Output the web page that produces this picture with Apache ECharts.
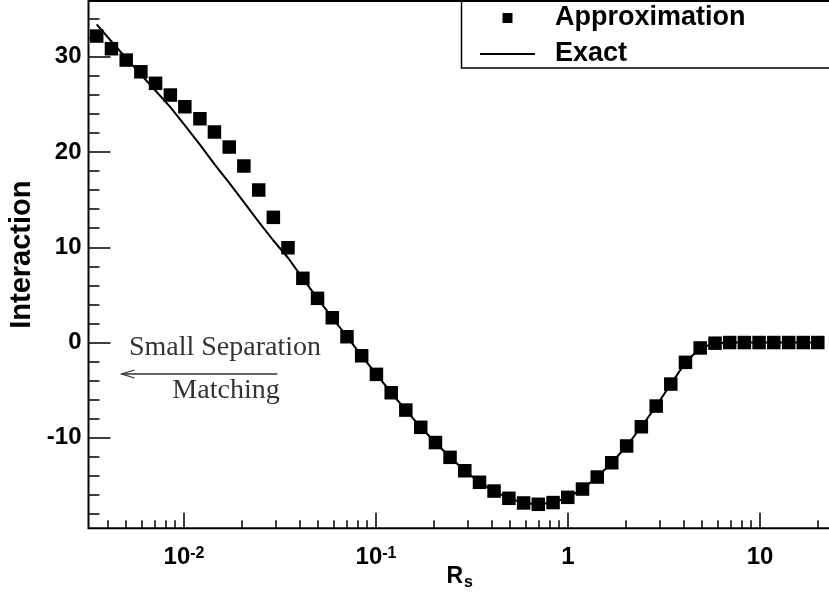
<!DOCTYPE html>
<html>
<head>
<meta charset="utf-8">
<script src="https://cdn.jsdelivr.net/npm/echarts@6/dist/echarts.min.js"></script>
<style>
html,body{margin:0;padding:0;background:#fff;}
#chart{width:829px;height:594px;}
</style>
</head>
<body>
<div id="chart"></div>
<script>
// ---- data ----
const rValues = [0.00351, 0.00419, 0.00500, 0.00596, 0.00711, 0.00849, 0.0101, 0.0121, 0.0144, 0.0172,
  0.0205, 0.0245, 0.0292, 0.0348, 0.0416, 0.0496, 0.0592, 0.0706, 0.0842, 0.1005,
  0.120, 0.143, 0.171, 0.204, 0.243, 0.290, 0.346, 0.412, 0.492, 0.587,
  0.700, 0.836, 0.997, 1.19, 1.42, 1.69, 2.02, 2.41, 2.88, 3.43,
  4.09, 4.88, 5.83, 6.95, 8.29, 9.89, 11.8, 14.1, 16.8, 20.0];
const approxValues = [32.17, 30.84, 29.65, 28.42, 27.21, 25.98, 24.75, 23.49, 22.1, 20.52,
  18.53, 16.01, 13.14, 9.95, 6.74, 4.64, 2.6, 0.61, -1.39, -3.34,
  -5.27, -7.09, -8.9, -10.5, -12.05, -13.46, -14.67, -15.59, -16.35, -16.84,
  -16.98, -16.8, -16.25, -15.38, -14.12, -12.62, -10.86, -8.84, -6.67, -4.36,
  -2.08, -0.57, -0.07, 0, 0, 0, 0, 0, 0, 0];
const exactValues = [33.4, 31.6, 29.85, 28.13, 26.43, 24.71, 22.8, 20.78, 18.72, 16.75,
  14.74, 12.67, 10.71, 8.9, 6.7, 4.64, 2.6, 0.61, -1.39, -3.34,
  -5.27, -7.09, -8.9, -10.5, -12.05, -13.46, -14.67, -15.59, -16.35, -16.84,
  -16.98, -16.8, -16.25, -15.38, -14.12, -12.62, -10.86, -8.84, -6.67, -4.36,
  -2.08, -0.57, -0.07, 0, 0, 0, 0, 0, 0, 0];
const seriesNames = ['Approximation', 'Exact'];
const xMajorTicks = [0.01, 0.1, 1, 10];
const xMinorTicks = [0.004, 0.005, 0.006, 0.007, 0.008, 0.009,
  0.02, 0.03, 0.04, 0.05, 0.06, 0.07, 0.08, 0.09,
  0.2, 0.3, 0.4, 0.5, 0.6, 0.7, 0.8, 0.9,
  2, 3, 4, 5, 6, 7, 8, 9, 20];
const yMajorTicks = [-10, 0, 10, 20, 30];
const yMinorTicks = [-18, -16, -14, -12, -8, -6, -4, -2, 2, 4, 6, 8, 12, 14, 16, 18, 22, 24, 26, 28, 32, 34];
const xRange = [0.003181, 23.43];
const yRange = [-19.5, 35.85];
const xTitle = 'R';
const xTitleSub = 's';
const yTitle = 'Interaction';
const noteTop = 'Small Separation';
const noteBottom = 'Matching';

const SANS = "'Liberation Sans', Arial, Helvetica, sans-serif";
const SERIF = "'Liberation Serif', 'Times New Roman', serif";

const chart = echarts.init(document.getElementById('chart'), null, {renderer: 'canvas'});

const approxData = rValues.map((r, i) => [r, approxValues[i]]);
const exactData = rValues.map((r, i) => [r, exactValues[i]]);

function xLabel(v) {
  if (v < 1) {
    const e = Math.round(Math.log10(v));
    return '{b|10}{s|' + e + '}';
  }
  return '{b|' + Math.round(v) + '}';
}

const option = {
  backgroundColor: '#fff',
  animation: false,
  grid: {
    left: 88.5, right: -2, top: 1, bottom: 65.7,
    outerBoundsMode: 'none', containLabel: false,
    show: true, borderColor: '#000', borderWidth: 2, backgroundColor: 'transparent'
  },
  legend: {
    orient: 'vertical',
    left: 480, top: 3,
    padding: 0,
    itemWidth: 55, itemHeight: 10,
    itemGap: 6,
    selectedMode: false,
    symbolKeepAspect: true,
    textStyle: {fontFamily: SANS, fontSize: 27, fontWeight: 'bold', color: '#000', lineHeight: 30, padding: [0, 0, 0, 15]},
    data: [
      {name: seriesNames[0], icon: 'path://M0,0L10,0L10,10L0,10Z'},
      {name: seriesNames[1], icon: 'path://M0,0L55,0L55,2L0,2Z'}
    ]
  },
  xAxis: [{
    type: 'log', logBase: 10,
    min: xRange[0], max: xRange[1],
    name: '{r|' + xTitle + '}{s|' + xTitleSub + '}',
    nameLocation: 'middle', nameGap: 34, nameMoveOverlap: false,
    nameTextStyle: {
      rich: {
        r: {fontFamily: SANS, fontSize: 23, fontWeight: 'bold', color: '#000'},
        s: {fontFamily: SANS, fontSize: 16, fontWeight: 'bold', color: '#000', padding: [12, 0, 0, 1]}
      }
    },
    axisLine: {show: false, onZero: false},
    splitLine: {show: false},
    axisTick: {show: true, inside: true, length: 15.5, customValues: xMajorTicks, lineStyle: {color: '#000', width: 1.5}},
    axisLabel: {
      customValues: xMajorTicks, margin: 17, formatter: xLabel,
      rich: {
        b: {fontFamily: SANS, fontSize: 24, fontWeight: 'bold', color: '#000'},
        s: {fontFamily: SANS, fontSize: 16, fontWeight: 'bold', color: '#000', verticalAlign: 'top', lineHeight: 16}
      }
    }
  }, {
    type: 'log', logBase: 10, position: 'bottom',
    min: xRange[0], max: xRange[1],
    axisLine: {show: false, onZero: false}, splitLine: {show: false}, axisLabel: {show: false},
    axisTick: {show: true, inside: true, length: 8, customValues: xMinorTicks, lineStyle: {color: '#000', width: 1.5}}
  }],
  yAxis: [{
    type: 'value', min: yRange[0], max: yRange[1],
    name: yTitle, nameLocation: 'middle', nameGap: 52, nameRotate: 90, nameMoveOverlap: false,
    nameTextStyle: {fontFamily: SANS, fontSize: 29, fontWeight: 'bold', color: '#000', padding: [0, 0, 0, 20]},
    axisLine: {show: false, onZero: false}, splitLine: {show: false},
    axisTick: {show: true, inside: true, length: 22, customValues: yMajorTicks, lineStyle: {color: '#000', width: 1.5}},
    axisLabel: {customValues: yMajorTicks, margin: 7, fontFamily: SANS, fontSize: 24, fontWeight: 'bold', color: '#000'}
  }, {
    type: 'value', position: 'left', min: yRange[0], max: yRange[1],
    axisLine: {show: false, onZero: false}, splitLine: {show: false}, axisLabel: {show: false},
    axisTick: {show: true, inside: true, length: 11, customValues: yMinorTicks, lineStyle: {color: '#000', width: 1.5}}
  }],
  series: [{
    name: seriesNames[1], type: 'line', data: exactData,
    xAxisIndex: 0, yAxisIndex: 0,
    showSymbol: false, symbol: 'none',
    lineStyle: {color: '#000', width: 2}, itemStyle: {color: '#000'},
    z: 2
  }, {
    name: seriesNames[0], type: 'scatter', data: approxData,
    xAxisIndex: 0, yAxisIndex: 0,
    symbol: 'rect', symbolSize: 13.5,
    itemStyle: {color: '#000', opacity: 1},
    z: 3
  }],
  graphic: [
    {type: 'rect', shape: {x: 461.5, y: -2, width: 400, height: 70}, style: {fill: 'none', stroke: '#000', lineWidth: 1.5}, z: 10},
    {type: 'text', x: 225, y: 348, style: {text: noteTop, font: '28px ' + SERIF, fill: '#333', textAlign: 'center', textVerticalAlign: 'middle'}, z: 10},
    {type: 'text', x: 226, y: 391, style: {text: noteBottom, font: '28px ' + SERIF, fill: '#333', textAlign: 'center', textVerticalAlign: 'middle'}, z: 10},
    {type: 'polyline', shape: {points: [[277.3, 374], [121.7, 374]]}, style: {stroke: '#333', lineWidth: 1.3, fill: 'none'}, z: 10},
    {type: 'polyline', shape: {points: [[134.5, 370], [121.7, 374], [134.5, 378]]}, style: {stroke: '#333', lineWidth: 1.3, fill: 'none'}, z: 10}
  ]
};
chart.setOption(option);
</script>
</body>
</html>
